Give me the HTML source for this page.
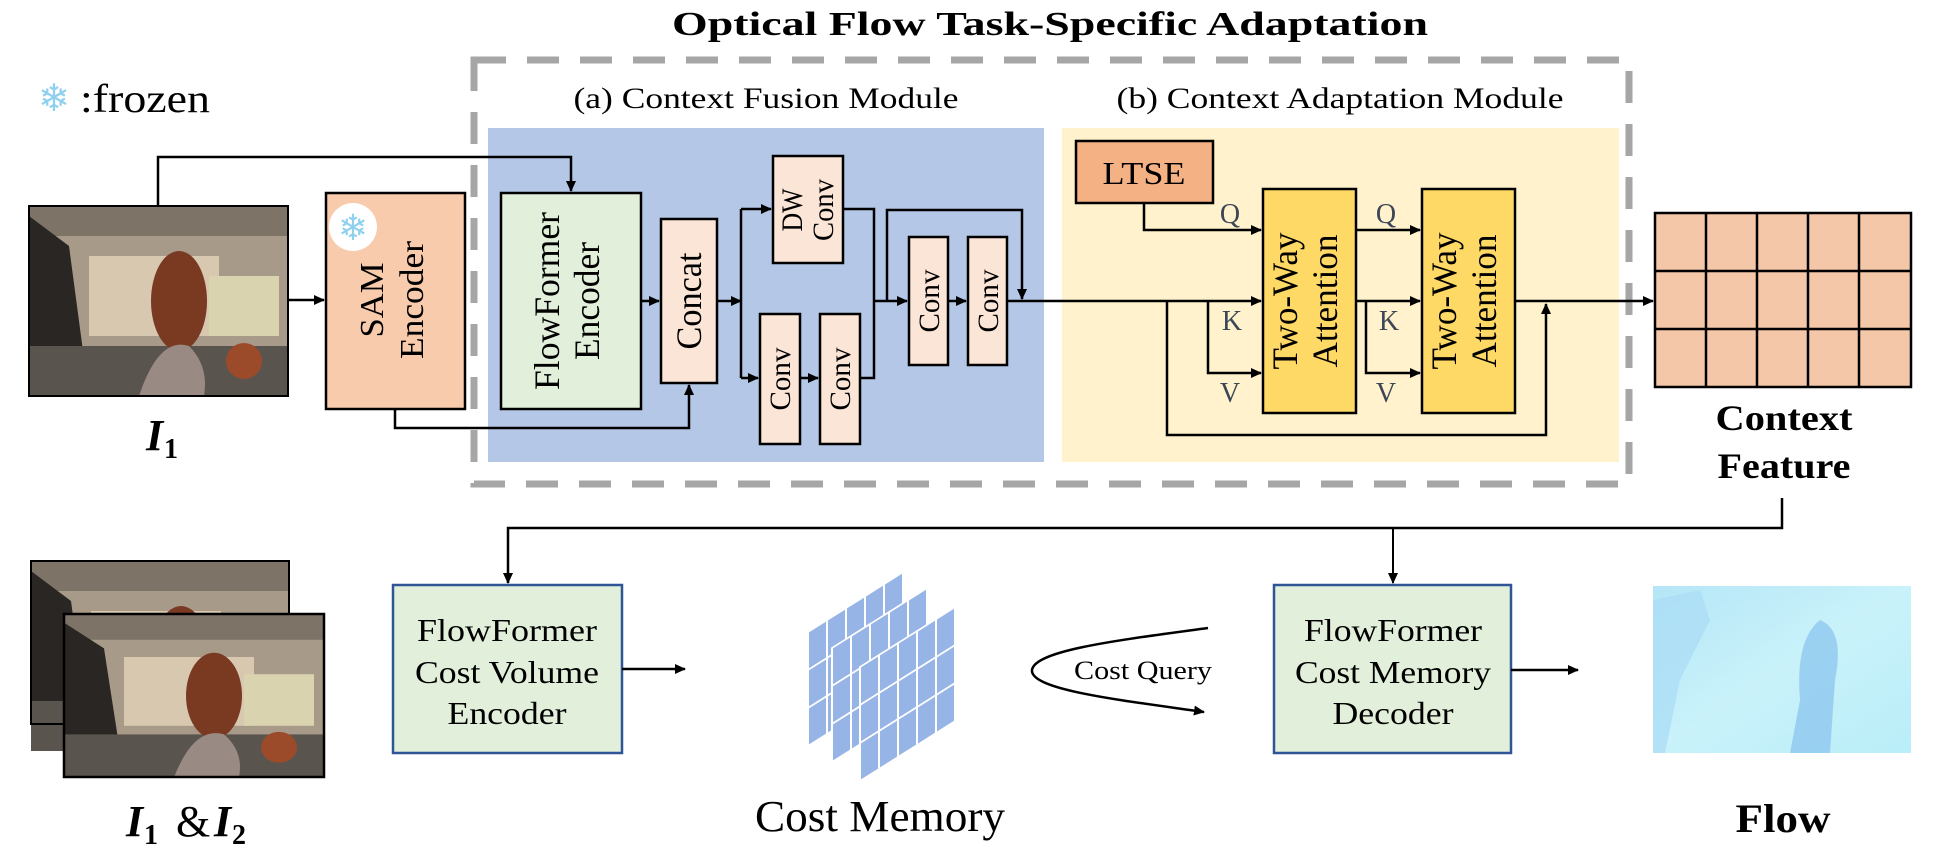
<!DOCTYPE html>
<html><head><meta charset="utf-8">
<style>html,body{margin:0;padding:0;background:#fff;}svg{display:block;}svg text{font-family:"Liberation Serif","Times New Roman",Times,serif;}</style>
</head><body>
<svg width="1937" height="855" viewBox="0 0 1937 855" xmlns="http://www.w3.org/2000/svg">
<defs>
<marker id="ah" markerWidth="12" markerHeight="12" refX="10" refY="5" orient="auto" markerUnits="userSpaceOnUse">
<path d="M0,0 L11,5 L0,10 z" fill="#000"/>
</marker>
<linearGradient id="flowg" x1="0" y1="0" x2="1" y2="1">
<stop offset="0" stop-color="#b5e6f7"/><stop offset="0.5" stop-color="#c9f2fa"/><stop offset="1" stop-color="#b9eef8"/>
</linearGradient>
<g id="photoimg">
<rect x="0" y="0" width="259" height="190" fill="#a89a88"/>
<rect x="60" y="50" width="130" height="80" fill="#d8c8b0"/>
<rect x="180" y="70" width="70" height="60" fill="#d9d3b0"/>
<rect x="0" y="0" width="259" height="30" fill="#7d7367"/>
<polygon points="0,10 40,40 60,190 0,190" fill="#2a2624"/>
<rect x="0" y="140" width="259" height="50" fill="#5a544e"/>
<ellipse cx="150" cy="95" rx="28" ry="50" fill="#7a3a22"/>
<path d="M110,190 Q130,130 160,140 Q180,160 175,190z" fill="#9a8a84"/>
<circle cx="215" cy="155" r="18" fill="#9b4a2a"/>
</g>
</defs>

<text x="1050" y="35" font-size="34" font-weight="bold" text-anchor="middle" textLength="756" lengthAdjust="spacingAndGlyphs">Optical Flow Task-Specific Adaptation</text>

<text x="54" y="111" font-size="38" fill="#8fd0ef" text-anchor="middle" style="font-family:'DejaVu Sans',sans-serif">❄</text>
<text x="80" y="112" font-size="40" textLength="130" lengthAdjust="spacingAndGlyphs">:frozen</text>

<rect x="474" y="60" width="1155" height="424" fill="none" stroke="#a6a6a6" stroke-width="7" stroke-dasharray="32 21"/>

<text x="766" y="108" font-size="30" text-anchor="middle" textLength="385" lengthAdjust="spacingAndGlyphs">(a) Context Fusion Module</text>
<text x="1340" y="108" font-size="30" text-anchor="middle" textLength="447" lengthAdjust="spacingAndGlyphs">(b) Context Adaptation Module</text>

<rect x="488" y="128" width="556" height="334" fill="#b4c7e7"/>
<rect x="1062" y="128" width="557" height="334" fill="#fff2cc"/>

<g transform="translate(29,206)"><use href="#photoimg"/></g>
<rect x="29" y="206" width="259" height="190" fill="none" stroke="#000" stroke-width="2"/>
<text x="146" y="450" font-size="44" font-weight="bold" font-style="italic">I</text>
<text x="164" y="458" font-size="28" font-weight="bold">1</text>

<rect x="326" y="193" width="139" height="216" fill="#f8cbad" stroke="#000" stroke-width="2.5"/>
<circle cx="353" cy="227" r="24" fill="#fff"/>
<text x="353" y="240" font-size="36" fill="#8fd0ef" text-anchor="middle" style="font-family:'DejaVu Sans',sans-serif">❄</text>
<g transform="translate(395,300) rotate(-90)" font-size="34" text-anchor="middle">
<text x="0" y="-12" textLength="75" lengthAdjust="spacingAndGlyphs">SAM</text><text x="0" y="28" textLength="118" lengthAdjust="spacingAndGlyphs">Encoder</text></g>

<polyline points="158,206 158,157 571,157 571,191" fill="none" stroke="#000" stroke-width="2.5" marker-end="url(#ah)"/>
<line x1="288" y1="300" x2="324" y2="300" stroke="#000" stroke-width="2.5" marker-end="url(#ah)"/>
<polyline points="395,409 395,428 689,428 689,385" fill="none" stroke="#000" stroke-width="2.5" marker-end="url(#ah)"/>

<rect x="501" y="193" width="140" height="216" fill="#e2efda" stroke="#000" stroke-width="2.5"/>
<g transform="translate(571,301) rotate(-90)" font-size="36" text-anchor="middle">
<text x="0" y="-12" textLength="178" lengthAdjust="spacingAndGlyphs">FlowFormer</text><text x="0" y="28" textLength="118" lengthAdjust="spacingAndGlyphs">Encoder</text></g>
<line x1="641" y1="301" x2="659" y2="301" stroke="#000" stroke-width="2.5" marker-end="url(#ah)"/>

<rect x="661" y="219" width="56" height="164" fill="#fbe5d6" stroke="#000" stroke-width="2.5"/>
<text transform="translate(701,301) rotate(-90)" font-size="36" text-anchor="middle" textLength="97" lengthAdjust="spacingAndGlyphs">Concat</text>
<line x1="717" y1="301" x2="741" y2="301" stroke="#000" stroke-width="2.5" marker-end="url(#ah)"/>
<line x1="741" y1="209" x2="741" y2="378" stroke="#000" stroke-width="2.5"/>
<line x1="741" y1="209" x2="771" y2="209" stroke="#000" stroke-width="2.5" marker-end="url(#ah)"/>
<line x1="741" y1="378" x2="758" y2="378" stroke="#000" stroke-width="2.5" marker-end="url(#ah)"/>

<rect x="773" y="156" width="70" height="107" fill="#fbe5d6" stroke="#000" stroke-width="2.5"/>
<g transform="translate(808,210) rotate(-90)" font-size="30" text-anchor="middle">
<text x="0" y="-6" textLength="43" lengthAdjust="spacingAndGlyphs">DW</text><text x="0" y="25" textLength="62" lengthAdjust="spacingAndGlyphs">Conv</text></g>
<rect x="760" y="314" width="40" height="130" fill="#fbe5d6" stroke="#000" stroke-width="2.5"/>
<text transform="translate(790,379) rotate(-90)" font-size="30" text-anchor="middle" textLength="63" lengthAdjust="spacingAndGlyphs">Conv</text>
<line x1="800" y1="378" x2="818" y2="378" stroke="#000" stroke-width="2.5" marker-end="url(#ah)"/>
<rect x="820" y="314" width="40" height="130" fill="#fbe5d6" stroke="#000" stroke-width="2.5"/>
<text transform="translate(850,379) rotate(-90)" font-size="30" text-anchor="middle" textLength="63" lengthAdjust="spacingAndGlyphs">Conv</text>
<polyline points="843,209 874,209 874,378 860,378" fill="none" stroke="#000" stroke-width="2.5"/>
<line x1="874" y1="301" x2="907" y2="301" stroke="#000" stroke-width="2.5" marker-end="url(#ah)"/>
<polyline points="887,301 887,210 1022,210 1022,299" fill="none" stroke="#000" stroke-width="2.5" marker-end="url(#ah)"/>
<rect x="909" y="237" width="39" height="128" fill="#fbe5d6" stroke="#000" stroke-width="2.5"/>
<text transform="translate(939,301) rotate(-90)" font-size="30" text-anchor="middle" textLength="63" lengthAdjust="spacingAndGlyphs">Conv</text>
<line x1="948" y1="301" x2="966" y2="301" stroke="#000" stroke-width="2.5" marker-end="url(#ah)"/>
<rect x="968" y="237" width="39" height="128" fill="#fbe5d6" stroke="#000" stroke-width="2.5"/>
<text transform="translate(998,301) rotate(-90)" font-size="30" text-anchor="middle" textLength="63" lengthAdjust="spacingAndGlyphs">Conv</text>
<line x1="1007" y1="301" x2="1261" y2="301" stroke="#000" stroke-width="2.5" marker-end="url(#ah)"/>

<rect x="1076" y="141" width="137" height="62" fill="#f4b183" stroke="#000" stroke-width="2.5"/>
<text x="1144" y="184" font-size="32" text-anchor="middle" textLength="83" lengthAdjust="spacingAndGlyphs">LTSE</text>
<polyline points="1144,203 1144,230 1261,230" fill="none" stroke="#000" stroke-width="2.5" marker-end="url(#ah)"/>
<polyline points="1208,301 1208,373 1261,373" fill="none" stroke="#000" stroke-width="2.5" marker-end="url(#ah)"/>
<polyline points="1167,301 1167,435 1546,435 1546,304" fill="none" stroke="#000" stroke-width="2.5" marker-end="url(#ah)"/>

<rect x="1263" y="189" width="93" height="224" fill="#ffd966" stroke="#000" stroke-width="2.5"/>
<g transform="translate(1309,301) rotate(-90)" font-size="36" text-anchor="middle">
<text x="0" y="-12" textLength="137" lengthAdjust="spacingAndGlyphs">Two-Way</text><text x="0" y="28" textLength="133" lengthAdjust="spacingAndGlyphs">Attention</text></g>
<line x1="1356" y1="230" x2="1420" y2="230" stroke="#000" stroke-width="2.5" marker-end="url(#ah)"/>
<line x1="1356" y1="301" x2="1420" y2="301" stroke="#000" stroke-width="2.5" marker-end="url(#ah)"/>
<polyline points="1366,301 1366,373 1420,373" fill="none" stroke="#000" stroke-width="2.5" marker-end="url(#ah)"/>
<rect x="1422" y="189" width="93" height="224" fill="#ffd966" stroke="#000" stroke-width="2.5"/>
<g transform="translate(1468,301) rotate(-90)" font-size="36" text-anchor="middle">
<text x="0" y="-12" textLength="137" lengthAdjust="spacingAndGlyphs">Two-Way</text><text x="0" y="28" textLength="133" lengthAdjust="spacingAndGlyphs">Attention</text></g>
<line x1="1515" y1="301" x2="1653" y2="301" stroke="#000" stroke-width="2.5" marker-end="url(#ah)"/>

<g font-size="28" fill="#3b4656" text-anchor="middle">
<text x="1230" y="223">Q</text><text x="1232" y="330">K</text><text x="1230" y="402">V</text>
<text x="1386" y="223">Q</text><text x="1389" y="330">K</text><text x="1386" y="402">V</text>
</g>

<rect x="1655" y="213" width="256" height="174" fill="#f4c7a8" stroke="#000" stroke-width="2.5"/>
<g stroke="#000" stroke-width="2.5">
<line x1="1706" y1="213" x2="1706" y2="387"/><line x1="1757" y1="213" x2="1757" y2="387"/>
<line x1="1808" y1="213" x2="1808" y2="387"/><line x1="1859" y1="213" x2="1859" y2="387"/>
<line x1="1655" y1="271" x2="1911" y2="271"/><line x1="1655" y1="329" x2="1911" y2="329"/>
</g>
<text x="1784" y="430" font-size="36" font-weight="bold" text-anchor="middle" textLength="137" lengthAdjust="spacingAndGlyphs">Context</text>
<text x="1784" y="478" font-size="36" font-weight="bold" text-anchor="middle" textLength="133" lengthAdjust="spacingAndGlyphs">Feature</text>

<polyline points="1782,498 1782,528 508,528 508,583" fill="none" stroke="#000" stroke-width="2.5" marker-end="url(#ah)"/>
<line x1="1393" y1="528" x2="1393" y2="583" stroke="#000" stroke-width="2" marker-end="url(#ah)"/>

<g transform="translate(31,561)"><use href="#photoimg"/></g>
<rect x="31" y="561" width="258" height="163" fill="none" stroke="#000" stroke-width="2"/>
<g transform="translate(64,614) scale(1.0,0.86)"><use href="#photoimg"/></g>
<rect x="64" y="614" width="260" height="163" fill="none" stroke="#000" stroke-width="2.5"/>
<text x="126" y="836" font-size="44" font-weight="bold" font-style="italic">I</text>
<text x="144" y="844" font-size="28" font-weight="bold">1</text>
<text x="176" y="836" font-size="44">&amp;</text>
<text x="214" y="836" font-size="44" font-weight="bold" font-style="italic">I</text>
<text x="232" y="844" font-size="28" font-weight="bold">2</text>

<rect x="393" y="585" width="229" height="168" fill="#e2efda" stroke="#2f5597" stroke-width="2.5"/>
<g font-size="32" text-anchor="middle">
<text x="507" y="641" textLength="180" lengthAdjust="spacingAndGlyphs">FlowFormer</text><text x="507" y="683" textLength="184" lengthAdjust="spacingAndGlyphs">Cost Volume</text><text x="507" y="724" textLength="119" lengthAdjust="spacingAndGlyphs">Encoder</text></g>
<line x1="622" y1="669" x2="685" y2="669" stroke="#000" stroke-width="2.5" marker-end="url(#ah)"/>

<g fill="#97b4e6" stroke="#fff" stroke-width="2">
<g transform="translate(808,632) matrix(1,-0.63,0,1,0,0)">
<rect x="0" y="0" width="19" height="38"/><rect x="19" y="0" width="19" height="38"/><rect x="38" y="0" width="19" height="38"/><rect x="57" y="0" width="19" height="38"/><rect x="76" y="0" width="19" height="38"/>
<rect x="0" y="38" width="19" height="38"/><rect x="19" y="38" width="19" height="38"/><rect x="38" y="38" width="19" height="38"/><rect x="57" y="38" width="19" height="38"/><rect x="76" y="38" width="19" height="38"/>
<rect x="0" y="76" width="19" height="38"/><rect x="19" y="76" width="19" height="38"/><rect x="38" y="76" width="19" height="38"/><rect x="57" y="76" width="19" height="38"/><rect x="76" y="76" width="19" height="38"/>
</g>
<g transform="translate(832,648) matrix(1,-0.63,0,1,0,0)">
<rect x="0" y="0" width="19" height="38"/><rect x="19" y="0" width="19" height="38"/><rect x="38" y="0" width="19" height="38"/><rect x="57" y="0" width="19" height="38"/><rect x="76" y="0" width="19" height="38"/>
<rect x="0" y="38" width="19" height="38"/><rect x="19" y="38" width="19" height="38"/><rect x="38" y="38" width="19" height="38"/><rect x="57" y="38" width="19" height="38"/><rect x="76" y="38" width="19" height="38"/>
<rect x="0" y="76" width="19" height="38"/><rect x="19" y="76" width="19" height="38"/><rect x="38" y="76" width="19" height="38"/><rect x="57" y="76" width="19" height="38"/><rect x="76" y="76" width="19" height="38"/>
</g>
<g transform="translate(860,667) matrix(1,-0.63,0,1,0,0)">
<rect x="0" y="0" width="19" height="38"/><rect x="19" y="0" width="19" height="38"/><rect x="38" y="0" width="19" height="38"/><rect x="57" y="0" width="19" height="38"/><rect x="76" y="0" width="19" height="38"/>
<rect x="0" y="38" width="19" height="38"/><rect x="19" y="38" width="19" height="38"/><rect x="38" y="38" width="19" height="38"/><rect x="57" y="38" width="19" height="38"/><rect x="76" y="38" width="19" height="38"/>
<rect x="0" y="76" width="19" height="38"/><rect x="19" y="76" width="19" height="38"/><rect x="38" y="76" width="19" height="38"/><rect x="57" y="76" width="19" height="38"/><rect x="76" y="76" width="19" height="38"/>
</g>
</g>
<text x="880" y="831" font-size="44" text-anchor="middle" textLength="250" lengthAdjust="spacingAndGlyphs">Cost Memory</text>

<path d="M1208,628 C1120,640 1035,650 1032,670 C1030,690 1120,700 1204,712" fill="none" stroke="#000" stroke-width="2.5" marker-end="url(#ah)"/>
<text x="1143" y="679" font-size="26" text-anchor="middle" textLength="138" lengthAdjust="spacingAndGlyphs">Cost Query</text>

<rect x="1274" y="585" width="237" height="168" fill="#e2efda" stroke="#2f5597" stroke-width="2.5"/>
<g font-size="32" text-anchor="middle">
<text x="1393" y="641" textLength="178" lengthAdjust="spacingAndGlyphs">FlowFormer</text><text x="1393" y="683" textLength="196" lengthAdjust="spacingAndGlyphs">Cost Memory</text><text x="1393" y="724" textLength="121" lengthAdjust="spacingAndGlyphs">Decoder</text></g>
<line x1="1511" y1="670" x2="1578" y2="670" stroke="#000" stroke-width="2.5" marker-end="url(#ah)"/>

<rect x="1653" y="586" width="258" height="167" fill="url(#flowg)"/>
<path d="M1653,600 L1700,590 L1710,620 L1680,680 L1665,753 L1653,753z" fill="#a9dcf5" opacity="0.7"/>
<path d="M1790,753 L1800,700 Q1795,640 1820,620 Q1845,630 1835,680 L1830,753z" fill="#8ec8ef" opacity="0.8"/>
<text x="1783" y="832" font-size="40" font-weight="bold" text-anchor="middle" textLength="95" lengthAdjust="spacingAndGlyphs">Flow</text>
</svg>
</body></html>
